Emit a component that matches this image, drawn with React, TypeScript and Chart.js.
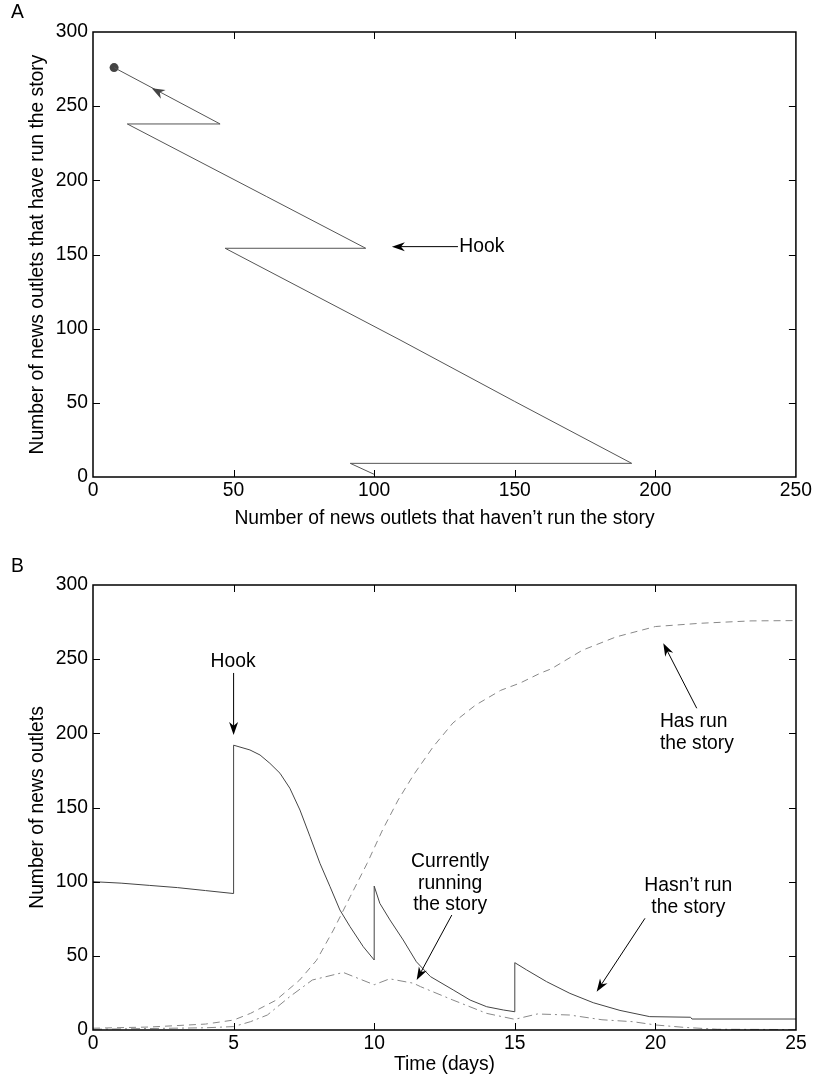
import React, { useEffect, useRef } from "react";
import { Chart, registerables } from "chart.js";

Chart.register(...registerables);

const FONT = "'Liberation Sans', Arial, Helvetica, sans-serif";
const FS = 19.3;

// ---------------- Panel A: trajectory (haven't run vs. have run) ----------------
const trajNotRun = [100, 91.5, 191.6, 150, 109.2, 47, 97, 61.8, 12.2, 45.2, 7.5];
const trajRun = [1.8, 9.2, 9.2, 50.9, 92.4, 154.2, 154.2, 189, 238, 238, 276];
const endNotRun = [7.5];
const endRun = [276];

// ---------------- Panel B: time series ----------------
const timeNotRun = [0, 1, 2, 3, 4, 5, 5, 5.58, 5.94, 6.29, 6.65, 7.0, 7.36, 7.72, 8.07, 8.43, 8.78, 9.14, 9.61, 10, 10, 10.2, 10.56, 11.03, 11.5, 12.0, 12.81, 13.41, 14.0, 14.59, 15, 15, 15.42, 16.13, 16.96, 17.79, 18.74, 19.8, 21.25, 21.3, 25];
const notRun = [100, 99, 97.5, 96, 94, 92, 192, 188.8, 185.4, 179.8, 173.1, 163, 148.3, 130.3, 112.4, 96.6, 80.9, 69.7, 56.2, 47.2, 97, 85.4, 74.2, 60.7, 46, 36, 27, 20.2, 15.7, 13.5, 12.3, 45.4, 40.5, 32.6, 24.7, 18.4, 13.2, 9.0, 8.6, 7.4, 7.4];

const timeHasRun = [0, 2, 4, 5, 5.6, 6.5, 7.35, 7.95, 8.55, 9.15, 9.75, 10.3, 10.85, 11.4, 12.1, 12.8, 13.6, 14.5, 15.2, 15.9, 16.3, 17.4, 18.6, 20, 21.6, 23.4, 25];
const hasRun = [1.2, 2, 4, 6.7, 11.2, 20, 33.7, 47, 67.4, 90, 112.4, 135, 155, 172, 191, 207, 219, 229, 234, 240.5, 243.5, 256, 265, 272, 274.2, 275.8, 276];

const timeRunning = [0, 2, 4, 5, 5.6, 6.2, 7, 7.8, 8.9, 10, 10.55, 11.4, 11.65, 12.8, 14, 15, 15.8, 16.95, 18.1, 19.2, 20, 21, 22.2, 25];
const running = [0.5, 1, 1.5, 2.3, 5.6, 10.1, 22.5, 33.7, 38.8, 30.5, 34.5, 31.5, 29.2, 20.2, 11.2, 7.2, 10.8, 10.1, 6.9, 5.6, 3.4, 1.8, 0.5, 0.3];

type Ann = {
  lines: string[];
  x: number;
  y: number;
  align: CanvasTextAlign;
  from?: [number, number];
  to?: [number, number];
};

const annotationsA: Ann[] = [
  { lines: ["Hook"], x: 130.3, y: 155.3, align: "left", from: [129.8, 155.3], to: [106.3, 155.3] },
];
const pathHeadA = { at: [20.9, 262.1], from: [45.2, 238], to: [7.5, 276] };

const annotationsB: Ann[] = [
  { lines: ["Hook"], x: 4.98, y: 248.4, align: "center", from: [5, 240.7], to: [5, 198.9] },
  { lines: ["Has run", "the story"], x: 20.16, y: 207.9, align: "left", from: [21.47, 216.9], to: [20.28, 260.8] },
  { lines: ["Currently", "running", "the story"], x: 12.7, y: 113.5, align: "center", from: [12.76, 77.5], to: [11.51, 33.7] },
  { lines: ["Hasn\u2019t run", "the story"], x: 21.17, y: 97.1, align: "center", from: [19.63, 75.3], to: [17.91, 25.8] },
];

function drawHead(ctx: CanvasRenderingContext2D, x: number, y: number, ang: number, color: string, len = 13, half = 4.5) {
  const c = Math.cos(ang), s = Math.sin(ang);
  const bx = x - c * len, by = y - s * len;
  ctx.fillStyle = color;
  ctx.beginPath();
  ctx.moveTo(x, y);
  ctx.lineTo(bx - s * half, by + c * half);
  ctx.lineTo(x - c * len * 0.7, y - s * len * 0.7);
  ctx.lineTo(bx + s * half, by - c * half);
  ctx.closePath();
  ctx.fill();
}

function makeDecor(panel: string, panelY: number, anns: Ann[], lineStep: number, head?: typeof pathHeadA) {
  return {
    id: "decor",
    afterDatasetsDraw(chart: any) {
      const { ctx, scales } = chart;
      const X = (v: number) => scales.x.getPixelForValue(v);
      const Y = (v: number) => scales.y.getPixelForValue(v);
      ctx.save();
      if (head) {
        const x1 = X(head.from[0]), y1 = Y(head.from[1]);
        const x2 = X(head.to[0]), y2 = Y(head.to[1]);
        drawHead(ctx, X(head.at[0]), Y(head.at[1]), Math.atan2(y2 - y1, x2 - x1), "#444", 13, 5);
      }
      for (const a of anns) {
        ctx.fillStyle = "#000";
        ctx.font = `${FS}px ${FONT}`;
        ctx.textAlign = a.align;
        ctx.textBaseline = "middle";
        a.lines.forEach((t, i) => ctx.fillText(t, X(a.x), Y(a.y) + i * lineStep));
        if (a.from && a.to) {
          const x1 = X(a.from[0]), y1 = Y(a.from[1]);
          const x2 = X(a.to[0]), y2 = Y(a.to[1]);
          const ang = Math.atan2(y2 - y1, x2 - x1);
          ctx.strokeStyle = "#000";
          ctx.lineWidth = 1;
          ctx.beginPath();
          ctx.moveTo(x1, y1);
          ctx.lineTo(x2 - Math.cos(ang) * 8, y2 - Math.sin(ang) * 8);
          ctx.stroke();
          drawHead(ctx, x2, y2, ang, "#000", 13, 4.5);
        }
      }
      ctx.restore();
    },
    afterDraw(chart: any) {
      const { ctx, chartArea: a, scales } = chart;
      ctx.save();
      ctx.strokeStyle = "#000";
      ctx.lineWidth = 1.5;
      ctx.strokeRect(a.left, a.top, a.right - a.left, a.bottom - a.top);
      ctx.lineWidth = 1;
      const tl = 7;
      ctx.beginPath();
      scales.x.ticks.forEach((t: any) => {
        const px = Math.round(scales.x.getPixelForValue(t.value)) + 0.5;
        if (px < a.left + 2 || px > a.right - 2) return;
        ctx.moveTo(px, a.bottom);
        ctx.lineTo(px, a.bottom - tl);
        ctx.moveTo(px, a.top);
        ctx.lineTo(px, a.top + tl);
      });
      scales.y.ticks.forEach((t: any) => {
        const py = Math.round(scales.y.getPixelForValue(t.value)) + 0.5;
        if (py < a.top + 2 || py > a.bottom - 2) return;
        ctx.moveTo(a.left, py);
        ctx.lineTo(a.left + tl, py);
        ctx.moveTo(a.right, py);
        ctx.lineTo(a.right - tl, py);
      });
      ctx.stroke();
      ctx.fillStyle = "#000";
      ctx.font = `${FS}px ${FONT}`;
      ctx.textAlign = "left";
      ctx.textBaseline = "middle";
      ctx.fillText(panel, 11, panelY);
      ctx.restore();
    },
  };
}

function buildOptions(o: {
  xMax: number; xStep: number; yMax: number; yStep: number;
  xTitle: string; yTitle: string; xTitlePad: number; yTitlePad: number;
  yWidth: number; xHeight: number; padding: any;
}) {
  const tickFont = { family: FONT, size: FS };
  return {
    animation: false,
    responsive: false,
    maintainAspectRatio: false,
    layout: { padding: o.padding },
    plugins: { legend: { display: false }, tooltip: { enabled: false } },
    elements: { point: { radius: 0 }, line: { tension: 0 } },
    scales: {
      x: {
        type: "linear",
        min: 0,
        max: o.xMax,
        grid: { display: false, drawTicks: false },
        border: { display: false },
        ticks: { stepSize: o.xStep, color: "#000", font: tickFont, padding: 2, maxRotation: 0, autoSkip: false },
        title: { display: true, text: o.xTitle, color: "#000", font: tickFont, padding: { top: 0, bottom: o.xTitlePad } },
        afterFit(s: any) { s.height = o.xHeight; },
      },
      y: {
        type: "linear",
        min: 0,
        max: o.yMax,
        grid: { display: false, drawTicks: false },
        border: { display: false },
        ticks: { stepSize: o.yStep, color: "#000", font: tickFont, padding: 5, autoSkip: false },
        title: { display: true, text: o.yTitle, color: "#000", font: tickFont, padding: { top: o.yTitlePad, bottom: 0 } },
        afterFit(s: any) { s.width = o.yWidth; },
      },
    },
  };
}

export default function App() {
  const refA = useRef<HTMLCanvasElement>(null);
  const refB = useRef<HTMLCanvasElement>(null);

  useEffect(() => {
    const chartA = new Chart(refA.current as HTMLCanvasElement, {
      type: "scatter",
      data: {
        datasets: [
          {
            data: trajNotRun.map((x, i) => ({ x, y: trajRun[i] })),
            showLine: true,
            borderColor: "#555",
            borderWidth: 1,
            pointRadius: 0,
          },
          {
            data: endNotRun.map((x, i) => ({ x, y: endRun[i] })),
            showLine: false,
            pointRadius: 4.5,
            pointBackgroundColor: "#444",
            pointBorderWidth: 0,
          },
        ],
      },
      options: buildOptions({
        xMax: 250, xStep: 50, yMax: 300, yStep: 50,
        xTitle: "Number of news outlets that haven\u2019t run the story",
        yTitle: "Number of news outlets that have run the story",
        xTitlePad: 20, yTitlePad: 26, yWidth: 93, xHeight: 73,
        padding: { left: 0, right: 18, top: 32, bottom: 0 },
      }) as any,
      plugins: [makeDecor("A", 13, annotationsA, 22, pathHeadA)],
    });

    const chartB = new Chart(refB.current as HTMLCanvasElement, {
      type: "scatter",
      data: {
        datasets: [
          {
            data: timeNotRun.map((x, i) => ({ x, y: notRun[i] })),
            showLine: true,
            borderColor: "#444",
            borderWidth: 1,
            pointRadius: 0,
          },
          {
            data: timeHasRun.map((x, i) => ({ x, y: hasRun[i] })),
            showLine: true,
            borderColor: "#888",
            borderWidth: 1,
            borderDash: [7, 5],
            pointRadius: 0,
          },
          {
            data: timeRunning.map((x, i) => ({ x, y: running[i] })),
            showLine: true,
            borderColor: "#888",
            borderWidth: 1,
            borderDash: [9, 4, 2, 4],
            pointRadius: 0,
          },
        ],
      },
      options: buildOptions({
        xMax: 25, xStep: 5, yMax: 300, yStep: 50,
        xTitle: "Time (days)",
        yTitle: "Number of news outlets",
        xTitlePad: 6, yTitlePad: 26, yWidth: 93, xHeight: 52,
        padding: { left: 0, right: 18, top: 35, bottom: 0 },
      }) as any,
      plugins: [makeDecor("B", 17, annotationsB, 21.7)],
    });

    return () => {
      chartA.destroy();
      chartB.destroy();
    };
  }, []);

  return (
    <div style={{ position: "absolute", left: 0, top: 0, width: 814, height: 1082, background: "#fff" }}>
      <canvas ref={refA} width={814} height={550} style={{ position: "absolute", left: 0, top: 0, width: 814, height: 550 }} />
      <canvas ref={refB} width={814} height={532} style={{ position: "absolute", left: 0, top: 550, width: 814, height: 532 }} />
    </div>
  );
}
